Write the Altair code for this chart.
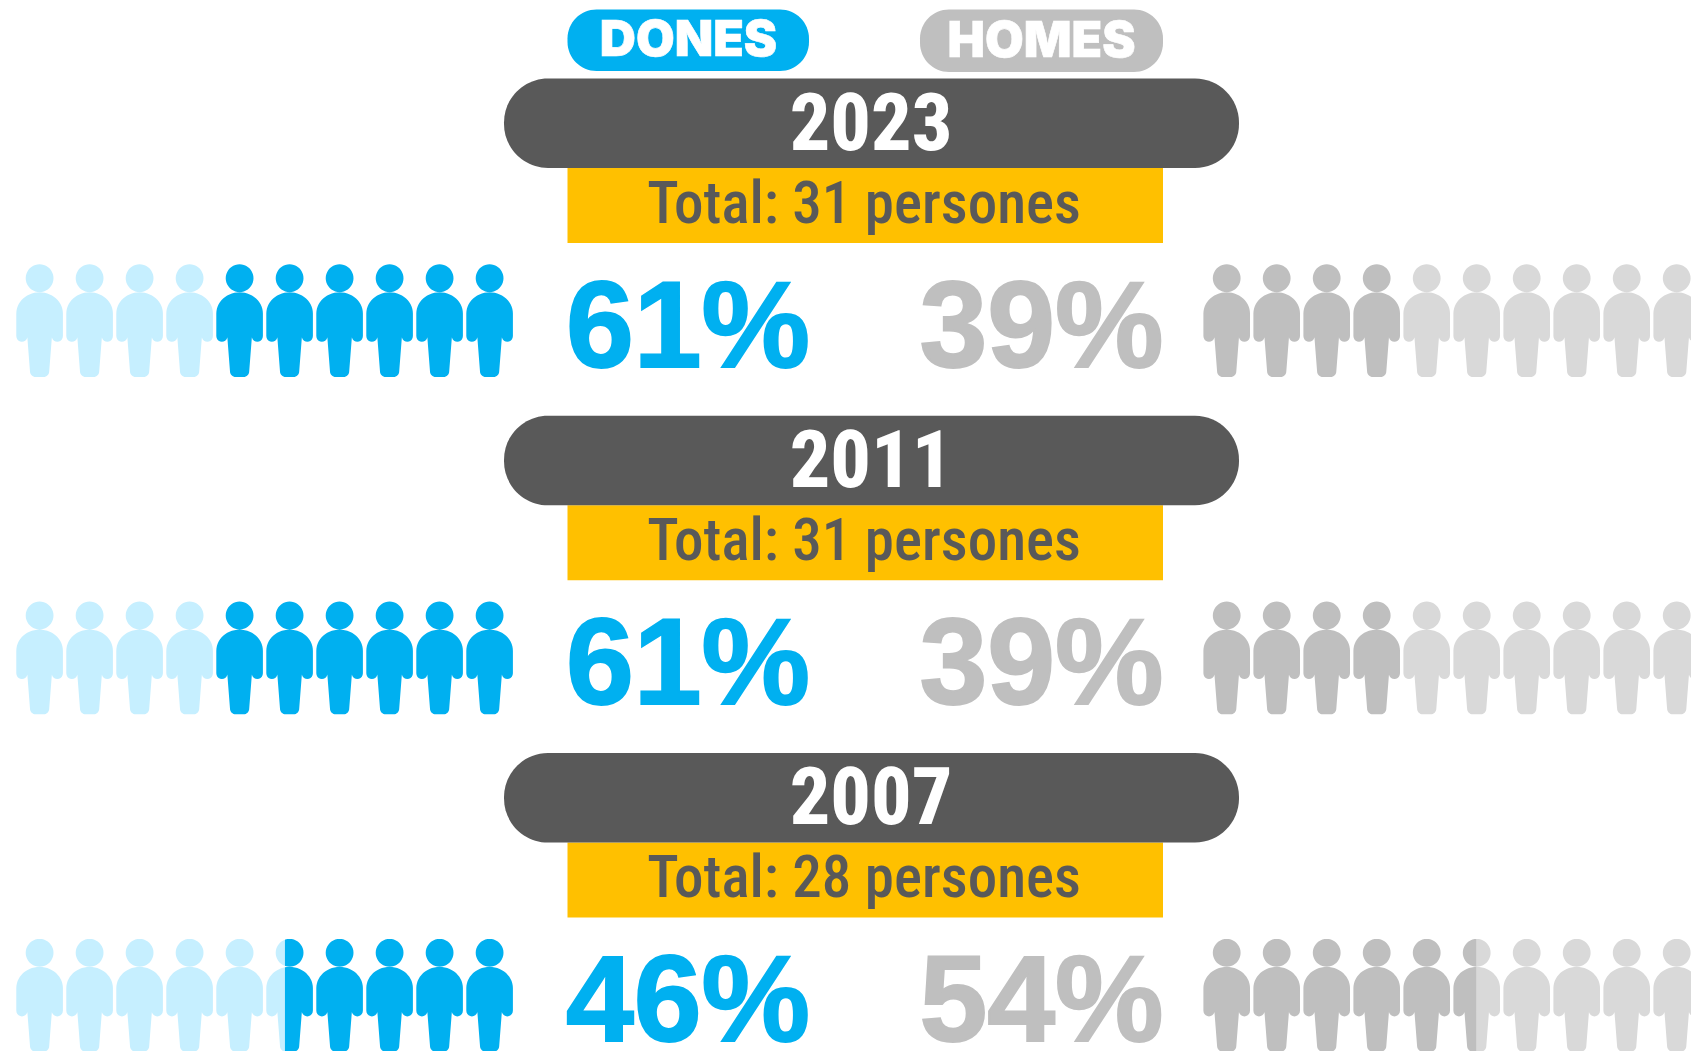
import math
import altair as alt
import pandas as pd

# ---- values ----
years = ["2023", "2011", "2007"]
totals = [31, 31, 28]
pct_dones = [61, 61, 46]
pct_homes = [39, 39, 54]
icons_dones = [6, 6, 4.6]   # filled icons out of ten (right to left)
icons_homes = [4, 4, 5.5]   # filled icons out of ten (left to right)
legend_labels = ["DONES", "HOMES"]

BLUE, BLUE_L = "#00B0F0", "#C6EFFF"
GREY, GREY_L = "#BFBFBF", "#D9D9D9"
DARK, GOLD = "#595959", "#FFC000"

# ---- layout, in page pixels ----
ROW = 337.3
H, HALF_W = 113.0, 23.3
DONES_X0, HOMES_X0, STEP = 39.6, 1226.7, 50.0
DONES_C, HOMES_C, MID = 688, 1041.5, 871


# ---- person glyph ----
def arc(cx, cy, rx, ry, a0, a1, n=14):
    return [(cx + rx * math.cos(math.radians(a0 + (a1 - a0) * i / n)),
             cy + ry * math.sin(math.radians(a0 + (a1 - a0) * i / n))) for i in range(n + 1)]


head = arc(0, 14.2, 13.9, 13.9, 0, 360, 40)[:-1]
right = (arc(0, 49.5, HALF_W, 21.2, -90, 0)
         + arc(17.7, 72, 5.6, 5.8, 0, 180, 10)
         + [(12.4, 71.5)]
         + arc(4, 107.4, 5.6, 5.6, 0, 90, 8))
body = right + [(-x, y) for x, y in reversed(right)]


def clip(poly, cut, keep_right):
    inside = (lambda p: p[0] >= cut) if keep_right else (lambda p: p[0] <= cut)
    out = []
    for i, p in enumerate(poly):
        q = poly[(i + 1) % len(poly)]
        if inside(p):
            out.append(p)
        if inside(p) != inside(q):
            t = (cut - p[0]) / (q[0] - p[0])
            out.append((cut, p[1] + t * (q[1] - p[1])))
    return out


def to_path(polys):
    s = ""
    for poly in polys:
        pts = [f"{x / (H / 2):.4f},{(y - H / 2) / (H / 2):.4f}" for x, y in poly]
        s += "M" + "L".join(pts) + "Z"
    return s


FULL = to_path([head, body])


def part(cut, keep_right):
    return to_path([clip(head, cut, keep_right), clip(body, cut, keep_right)])


# ---- icon table ----
rows = []
for r in range(len(years)):
    cy = 264 + H / 2 + r * ROW
    for i in range(10):
        # women: dark icons fill from the right
        x = DONES_X0 + i * STEP
        f = icons_dones[r] - (9 - i)
        if f >= 1:
            rows.append((x, cy, FULL, BLUE))
        elif f <= 0:
            rows.append((x, cy, FULL, BLUE_L))
        else:
            cut = HALF_W - f * 2 * HALF_W
            rows.append((x, cy, part(cut, False), BLUE_L))
            rows.append((x, cy, part(cut, True), BLUE))
        # men: dark icons fill from the left
        x = HOMES_X0 + i * STEP
        f = icons_homes[r] - i
        if f >= 1:
            rows.append((x, cy, FULL, GREY))
        elif f <= 0:
            rows.append((x, cy, FULL, GREY_L))
        else:
            cut = -HALF_W + f * 2 * HALF_W
            rows.append((x, cy, part(cut, False), GREY))
            rows.append((x, cy, part(cut, True), GREY_L))
icons = pd.DataFrame(rows, columns=["x", "y", "path", "color"])

X = alt.Scale(domain=[8, 1691], nice=False, zero=False)
Y = alt.Scale(domain=[1051, 8], nice=False, zero=False)


def xe(f="x"):
    return alt.X(f"{f}:Q", scale=X, axis=None)


def ye(f="y"):
    return alt.Y(f"{f}:Q", scale=Y, axis=None)


def boxes(data, color, radius):
    return alt.Chart(pd.DataFrame(data, columns=["x", "x2", "y", "y2"])).mark_rect(
        color=color, cornerRadius=radius, opacity=1
    ).encode(x=xe(), x2="x2:Q", y=ye(), y2="y2:Q")


def texts(data, color, font, size, weight, stroke=0.0):
    kw = dict(stroke=color, strokeWidth=stroke) if stroke else {}
    return alt.Chart(pd.DataFrame(data, columns=["x", "y", "t"])).mark_text(
        color=color, font=font, fontSize=size, fontWeight=weight,
        align="center", baseline="alphabetic", **kw
    ).encode(x=xe(), y=ye(), text="t:N")


layers = [
    boxes([(567.5, 809, 9.5, 71)], BLUE, 29),
    boxes([(920, 1163, 9.5, 72)], GREY, 29),
    boxes([(567.5, 1163, 168 + r * ROW, 243 + r * ROW) for r in range(3)], GOLD, 0),
    boxes([(504, 1239, 78.5 + r * ROW, 168 + r * ROW) for r in range(3)], DARK, 44),
    texts([(688.5, 56, legend_labels[0])], "white", "Inter", 50, 900, 0.6),
    texts([(1041.5, 56.5, legend_labels[1])], "white", "Inter", 50, 900, 0.6),
    texts([(MID, 149.5 + r * ROW, years[r]) for r in range(3)], "white",
          "Roboto Condensed", 80, 800),
    texts([(864, 222.5 + r * ROW, f"Total: {totals[r]} persones") for r in range(3)], DARK,
          "Roboto Condensed", 59, 500),
    texts([(DONES_C, 366.5 + r * ROW, f"{pct_dones[r]}%") for r in range(3)], BLUE,
          "Liberation Sans", 122, "bold", 2.0),
    texts([(HOMES_C, 366.5 + r * ROW, f"{pct_homes[r]}%") for r in range(3)], GREY,
          "Liberation Sans", 122, "bold", 2.0),
    alt.Chart(icons).mark_point(filled=True, opacity=1, clip=True, strokeWidth=0, size=H * H).encode(
        x=xe(), y=ye(),
        shape=alt.Shape("path:N", scale=None),
        color=alt.Color("color:N", scale=None),
    ),
]

chart = alt.layer(*layers).properties(
    width=1683, height=1043, padding=0, background="white",
    autosize=alt.AutoSizeParams(type="none"),
).configure_view(stroke=None)

chart.save("out.html", embed_options={"renderer": "svg", "actions": False})
